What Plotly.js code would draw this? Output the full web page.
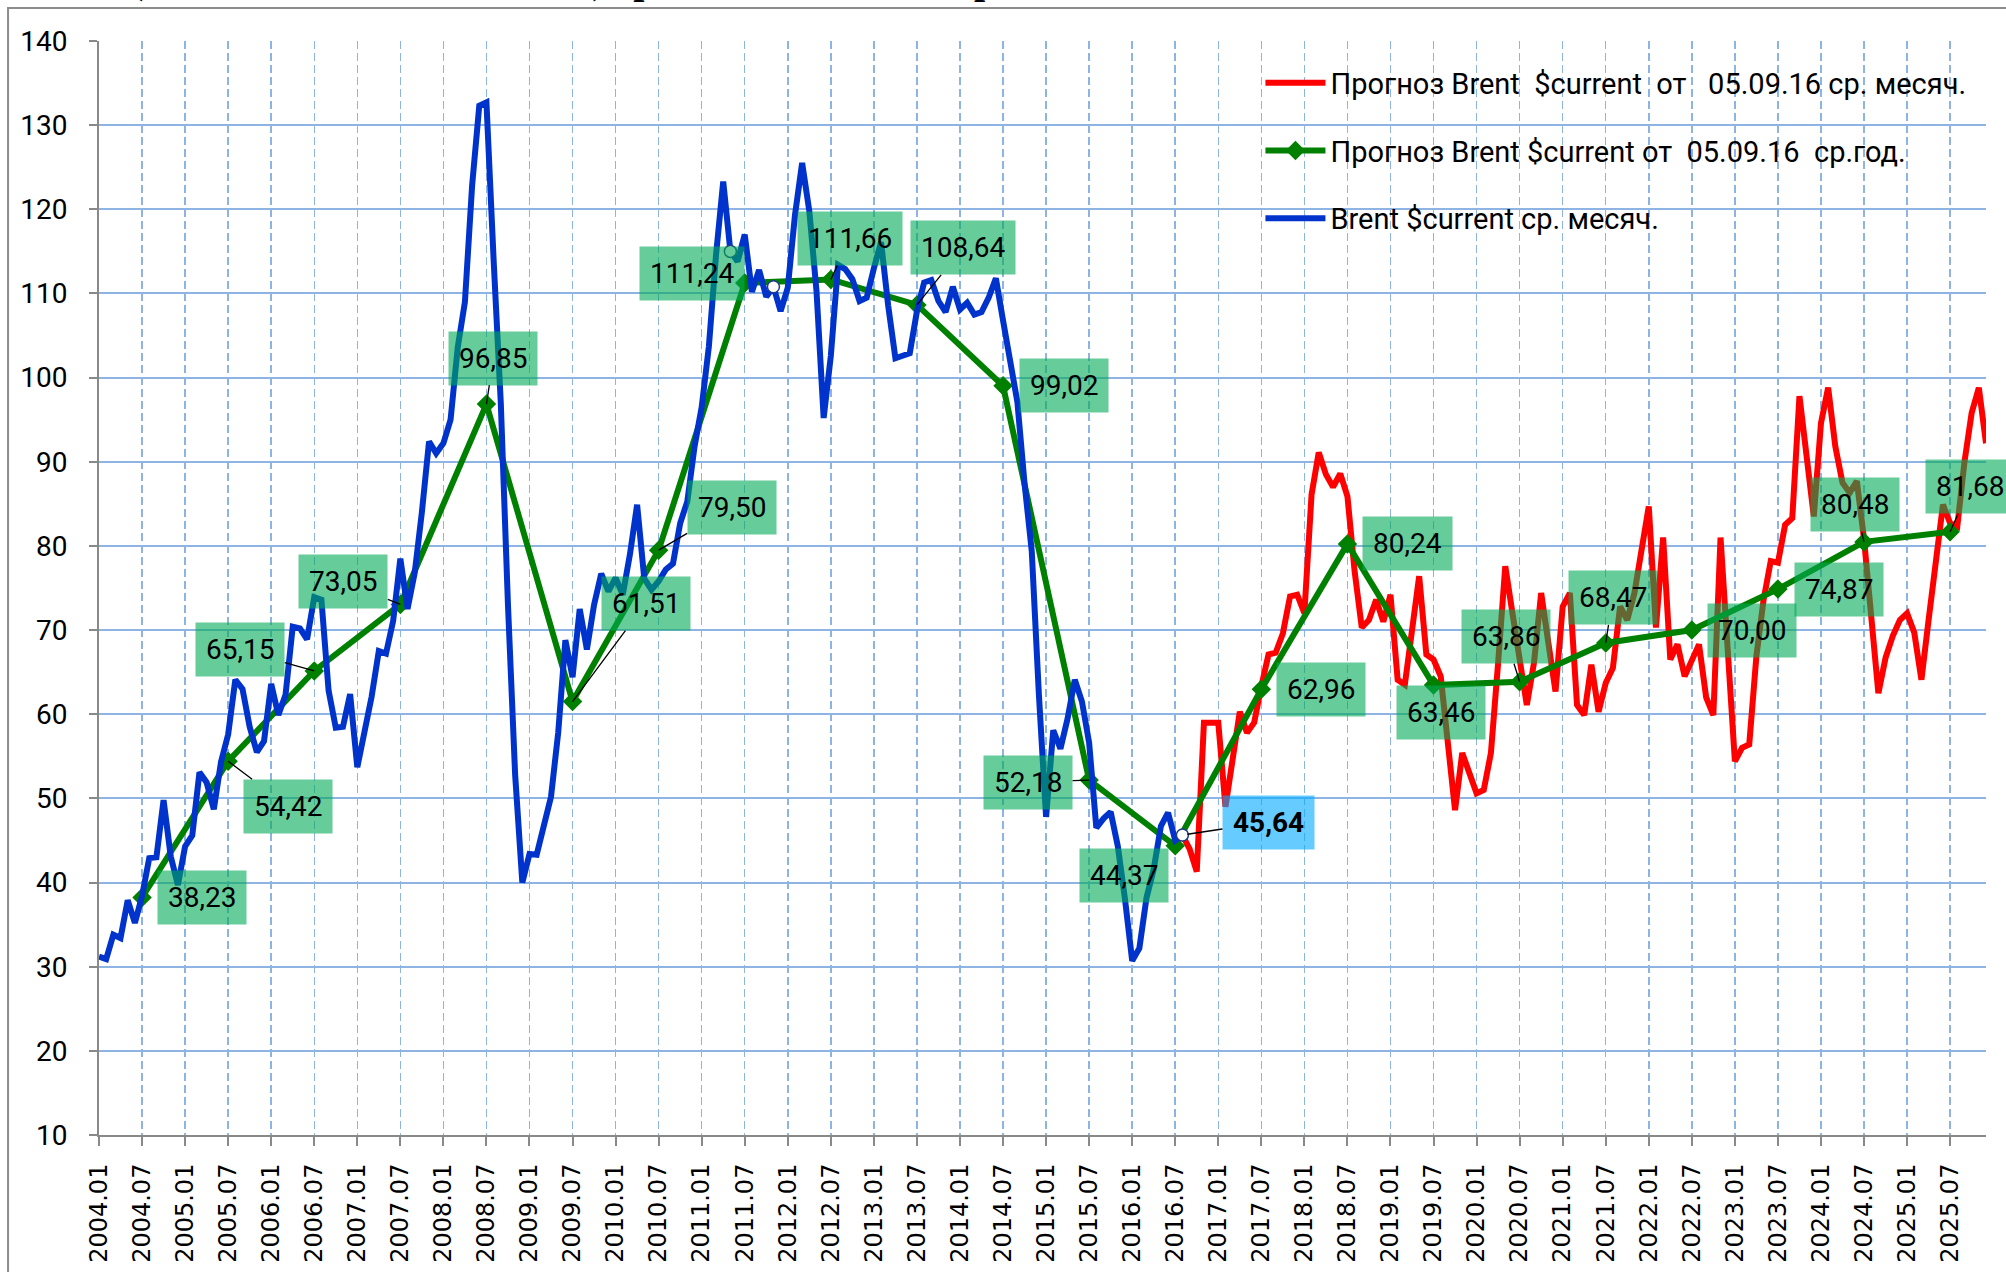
<!DOCTYPE html>
<html>
<head>
<meta charset="utf-8">
<script src="https://cdn.plot.ly/plotly-3.0.1.min.js"></script>
<style>html,body{margin:0;padding:0;background:#fff;}#chart{width:2006px;height:1272px;}</style>
</head>
<body>
<div id="chart"></div>
<script>
// ---------- DATA ----------
// Month categories 2004.01 ... 2025.12
const months = [];
for (let y = 2004; y <= 2025; y++) {
  for (let mo = 1; mo <= 12; mo++) months.push(y + '.' + String(mo).padStart(2, '0'));
}

// Brent $current, monthly average, 2004.01 ... 2016.08
const brentMonthly = [
  31.2, 30.9, 33.8, 33.4, 37.9, 35.2, 38.4, 42.9, 43.0, 49.8, 43.1, 39.7,
  44.3, 45.6, 53.1, 51.9, 48.7, 54.3, 57.6, 64.1, 63.0, 58.5, 55.5, 56.8,
  63.6, 59.9, 62.3, 70.4, 70.2, 68.9, 73.9, 73.6, 62.8, 58.4, 58.5, 62.4,
  53.7, 57.6, 62.1, 67.5, 67.2, 71.1, 78.5, 72.5, 76.8, 84.0, 92.4, 91.0,
  92.2, 95.0, 103.6, 109.0, 122.8, 132.3, 132.7, 114.0, 97.0, 73.0, 52.8, 40.0,
  43.4, 43.3, 46.5, 50.2, 57.8, 68.8, 64.4, 72.5, 67.7, 73.0, 76.7, 74.6,
  76.2, 74.2, 79.0, 84.9, 76.1, 74.8, 75.8, 77.2, 77.9, 82.7, 85.3, 91.8,
  96.5, 103.7, 114.6, 123.3, 115.0, 113.8, 117.0, 110.2, 112.8, 109.6, 110.8, 107.9,
  110.7, 119.3, 125.5, 119.8, 110.3, 95.2, 102.6, 113.4, 112.9, 111.7, 109.1, 109.5,
  113.0, 116.1, 108.5, 102.3, 102.6, 102.9, 107.9, 111.3, 111.6, 109.1, 107.8, 110.8,
  108.1, 108.9, 107.5, 107.8, 109.5, 111.8, 106.8, 101.6, 97.1, 87.4, 79.4, 62.3,
  47.8, 58.1, 55.9, 59.5, 64.1, 61.5, 56.6, 46.5, 47.6, 48.4, 44.3, 38.0,
  30.7, 32.2, 38.2, 41.6, 46.7, 48.3, 45.0, 45.64
];

// Forecast Brent $current from 05.09.16, monthly average, 2016.09 ... 2025.12
const forecastMonthly = [
  44.0, 41.3, 59.0, 59.0,
  59.0, 49.0, 54.6, 60.3, 57.8, 59.0, 63.3, 67.1, 67.3, 69.6, 74.0, 74.2,
  72.0, 86.1, 91.1, 88.5, 87.0, 88.6, 85.9, 77.0, 70.3, 71.2, 73.6, 71.0,
  74.2, 64.1, 63.5, 69.9, 76.4, 67.1, 66.5, 64.5, 56.6, 48.6, 55.4, 52.8,
  50.6, 51.0, 55.4, 66.1, 77.6, 72.0, 66.4, 61.1, 66.1, 74.4, 68.5, 62.7,
  72.8, 74.4, 61.1, 59.9, 65.9, 60.3, 63.7, 65.5, 72.8, 71.2, 74.4, 79.5,
  84.7, 70.3, 81.0, 66.5, 68.3, 64.5, 66.5, 68.3, 62.0, 59.9, 81.0, 67.7,
  54.4, 56.0, 56.4, 66.9, 73.6, 78.2, 78.0, 82.5, 83.3, 97.8, 90.6, 83.5,
  94.6, 98.8, 91.8, 87.5, 86.3, 87.7, 80.8, 71.6, 62.5, 66.7, 69.3, 71.2,
  72.0, 69.7, 64.1, 71.2, 78.4, 84.9, 82.7, 82.3, 90.0, 95.8, 98.8, 92.2
];

// Forecast Brent $current from 05.09.16, annual average (plotted at July)
const annualValues = [
  38.23, 54.42, 65.15, 73.05, 96.85, 61.51, 79.50, 111.24, 111.66, 108.64, 99.02,
  52.18, 44.37, 62.96, 80.24, 63.46, 63.86, 68.47, 70.00, 74.87, 80.48, 81.68
];
const annualMonths = months.filter(m => m.endsWith('.07'));

// highlighted points of the monthly series (2011.05, 2011.11, 2016.08)
const highlightIdx = [88, 94, 151];

const tickLabels = months.filter(m => m.endsWith('.01') || m.endsWith('.07'));

const seriesNames = [
  'Прогноз Brent\u00a0\u00a0$current\u00a0\u00a0от\u00a0\u00a0\u00a005.09.16 ср. месяч.',
  'Прогноз Brent $current от\u00a0\u00a005.09.16\u00a0\u00a0ср.год.',
  'Brent $current ср. месяч.'
];

const titleText = '(Brent 2004\u00a0\u2013\u00a02025 гг. USD) среднемесячные и среднегодовые данные';

// ---------- TRACES ----------
const blueX = months.slice(0, brentMonthly.length);
const redX = months.slice(brentMonthly.length - 1, brentMonthly.length + forecastMonthly.length);
const redY = [brentMonthly[brentMonthly.length - 1]].concat(forecastMonthly);

const traces = [
  {
    type: 'scatter', mode: 'lines', name: seriesNames[0], legendgroup: 'a',
    x: redX, y: redY, line: {color: '#FF0000', width: 6}
  },
  {
    type: 'scatter', mode: 'lines+markers', name: seriesNames[1], legendgroup: 'b',
    x: annualMonths, y: annualValues,
    line: {color: '#008000', width: 6},
    marker: {symbol: 'diamond', size: 15, color: '#008000'}
  },
  {
    type: 'scatter', mode: 'lines', name: seriesNames[2], legendgroup: 'c',
    x: blueX, y: brentMonthly, line: {color: '#0033CC', width: 6}
  },
  {
    type: 'scatter', mode: 'markers', showlegend: false, hoverinfo: 'skip',
    x: highlightIdx.map(i => months[i]), y: highlightIdx.map(i => brentMonthly[i]),
    marker: {symbol: 'circle', size: 12, color: '#FFFFFF', line: {color: '#1F3C88', width: 1.5}}
  }
];

// ---------- ANNOTATIONS ----------
// label box offsets (pixels from the point) and whether a leader line is drawn
const labelOffsets = [
  [60, 0, 0], [60, 45, 1], [-74, -21, 1], [-57, -23, 1], [7, -46, 1], [73, -98, 1],
  [73, -43, 1], [-53, -10, 0], [19, -41, 1], [46, -57, 1], [61, 0, 0], [-61, 2, 1],
  [-51, 30, 0], [60, 0, 0], [60, 0, 0], [7, 27, 0], [-14, -45, 1], [7, -45, 1],
  [60, 0, 0], [61, 0, 0], [-9, -37, 1], [20, -45, 1]
];

const fmt = v => v.toFixed(2).replace('.', ',');
const labelFont = {family: 'Roboto, "Noto Sans", sans-serif', size: 28, color: '#000'};

const annotations = annualValues.map((v, i) => ({
  x: months.indexOf(annualMonths[i]), y: v, xref: 'x', yref: 'y',
  text: fmt(v), font: labelFont,
  showarrow: true, ax: labelOffsets[i][0], ay: labelOffsets[i][1],
  arrowhead: 0, arrowwidth: 1.3, standoff: 0,
  arrowcolor: labelOffsets[i][2] ? '#000000' : 'rgba(0,0,0,0)',
  bgcolor: 'rgba(0,170,85,0.6)', borderpad: 10
}));

// highlighted last actual value
const lastIdx = brentMonthly.length - 1;
annotations.push({
  x: lastIdx, y: brentMonthly[lastIdx], xref: 'x', yref: 'y',
  text: fmt(brentMonthly[lastIdx]),
  font: {family: 'Roboto, "Noto Sans", sans-serif', size: 28, color: '#000', weight: 'bold'},
  showarrow: true, ax: 86, ay: -13, arrowhead: 0, arrowwidth: 1.5, arrowcolor: '#000', standoff: 5,
  bgcolor: 'rgba(0,170,255,0.6)', borderpad: 10
});

// cut-off chart title at the top edge
annotations.push({
  xref: 'paper', yref: 'paper', x: 0.0154, y: 1.0335, xanchor: 'left', yanchor: 'bottom',
  showarrow: false, text: titleText,
  font: {family: '"Liberation Serif", "DejaVu Serif", serif', size: 40, color: '#000', weight: 'bold'}
});

const gridBlue = '#8EB4E3';
const axisGray = '#898989';

const layout = {
  width: 2006, height: 1272,
  margin: {l: 99, r: 20, t: 41, b: 137},
  paper_bgcolor: '#FFFFFF', plot_bgcolor: '#FFFFFF',
  showlegend: true,
  legend: {
    x: 0.6155, y: 0.985, xanchor: 'left', yanchor: 'top',
    bgcolor: 'rgba(0,0,0,0)', borderwidth: 0,
    font: {family: 'Roboto, "Noto Sans", sans-serif', size: 29, color: '#000'},
    traceorder: 'grouped', tracegroupgap: 27, itemwidth: 60
  },
  xaxis: {
    type: 'category', categoryorder: 'array', categoryarray: months,
    range: [0, months.length - 1],
    tickmode: 'array', tickvals: tickLabels, ticktext: tickLabels,
    tickangle: -90,
    tickfont: {family: '"DejaVu Sans", Verdana, sans-serif', size: 24, color: '#000'},
    ticks: 'outside', ticklen: 9, tickwidth: 2, tickcolor: axisGray,
    ticklabelstandoff: 8,
    showline: true, linecolor: axisGray, linewidth: 2,
    showgrid: true, gridcolor: gridBlue, gridwidth: 1.5, griddash: '8px,4px',
    zeroline: false, fixedrange: true
  },
  yaxis: {
    range: [10, 140], dtick: 10, tick0: 10,
    tickfont: {family: 'Roboto, "Noto Sans", sans-serif', size: 28, color: '#000'},
    ticks: 'outside', ticklen: 8, tickwidth: 2, tickcolor: axisGray,
    ticklabelstandoff: 16,
    showline: true, linecolor: axisGray, linewidth: 2,
    showgrid: true, gridcolor: gridBlue, gridwidth: 2,
    zeroline: false, fixedrange: true
  },
  shapes: [
    // white legend area hiding the grid behind the legend
    {type: 'rect', xref: 'x', yref: 'y', x0: 161.1, x1: 262.5, y0: 114.86, y1: 138.99,
     fillcolor: '#FFFFFF', line: {width: 0}, layer: 'below'},
    // outer chart frame
    {type: 'rect', xref: 'paper', yref: 'paper', x0: -0.0482, x1: 1.03, y0: -0.16, y1: 1.0302,
     line: {color: '#8C8C8C', width: 2}, fillcolor: 'rgba(0,0,0,0)', layer: 'above'}
  ],
  annotations: annotations
};

Plotly.newPlot('chart', traces, layout, {staticPlot: true, displayModeBar: false});
</script>
</body>
</html>
